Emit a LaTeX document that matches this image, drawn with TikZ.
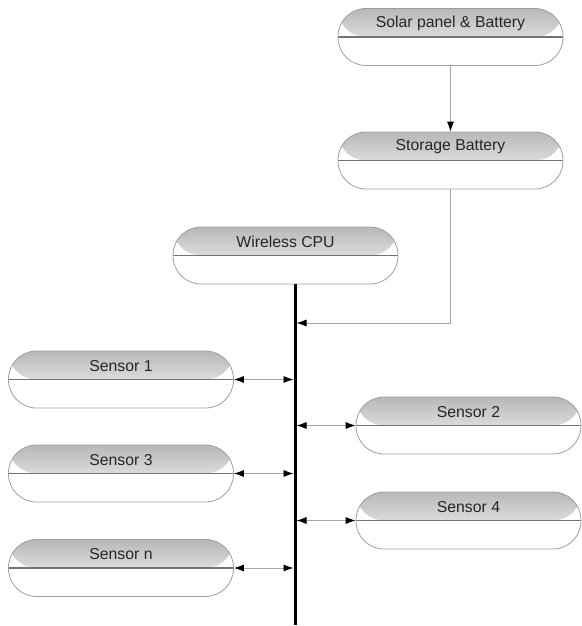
\documentclass[tikz,border=0pt]{standalone}
\usepackage{fontspec}
\setmainfont{Liberation Sans}
\usetikzlibrary{arrows.meta}
\tikzset{
  capsule/.style={draw=gray!75, line width=0.8pt, minimum width=225pt, minimum height=57pt,
    rounded corners=28pt, inner sep=0pt,
    path picture={
      \shade[top color=black!28, bottom color=white]
        (path picture bounding box.north west) rectangle (path picture bounding box.east);
      \draw[black!55, line width=1.3pt]
        (path picture bounding box.west) -- (path picture bounding box.east);
    }},
  lbl/.style={font=\fontsize{15.8pt}{18pt}\selectfont, text=black!85},
  conn/.style={draw=gray!70, line width=0.8pt},
  tip/.style={-{Latex[length=10pt,width=7pt,color=black]}},
  dtip/.style={{Latex[length=10pt,width=7pt,color=black]}-{Latex[length=10pt,width=7pt,color=black]}},
  bus/.style={line width=3pt, draw=black}
}
\begin{document}
\begin{tikzpicture}[x=1pt,y=-1pt]
\useasboundingbox (0,0) rectangle (581,626);
\node[capsule, label={[lbl, yshift=13.5pt]center:Solar panel \& Battery}] (solar) at (450.5,37) {};
\node[capsule, label={[lbl, yshift=13.5pt]center:Storage Battery}] (storage) at (450.5,160.5) {};
\node[capsule, label={[lbl, yshift=13.5pt]center:Wireless CPU}] (cpu) at (285.5,255.5) {};
\node[capsule, label={[lbl, yshift=13.5pt]center:Sensor 1}] (s1) at (121,379.5) {};
\node[capsule, label={[lbl, yshift=13.5pt]center:Sensor 3}] (s3) at (121,473.5) {};
\node[capsule, label={[lbl, yshift=13.5pt]center:Sensor n}] (sn) at (121,568) {};
\node[capsule, label={[lbl, yshift=13.5pt]center:Sensor 2}] (s2) at (468.5,425.5) {};
\node[capsule, label={[lbl, yshift=13.5pt]center:Sensor 4}] (s4) at (468.5,520.5) {};
\coordinate (bustop) at (295,284);
\coordinate (busbot) at (295,625);
\draw[bus] (bustop) -- (busbot);
\coordinate (busin) at (296.5,323);
\draw[conn,tip] (solar.south) -- (storage.north);
\draw[conn,tip] (storage.south) |- (busin);
\draw[conn,dtip] (s1.east) -- (s1.east -| {(293.5,0)});
\draw[conn,dtip] (s3.east) -- (s3.east -| {(293.5,0)});
\draw[conn,dtip] (sn.east) -- (sn.east -| {(293.5,0)});
\draw[conn,dtip] (s2.west -| {(296.5,0)}) -- (s2.west);
\draw[conn,dtip] (s4.west -| {(296.5,0)}) -- (s4.west);
\end{tikzpicture}
\end{document}
